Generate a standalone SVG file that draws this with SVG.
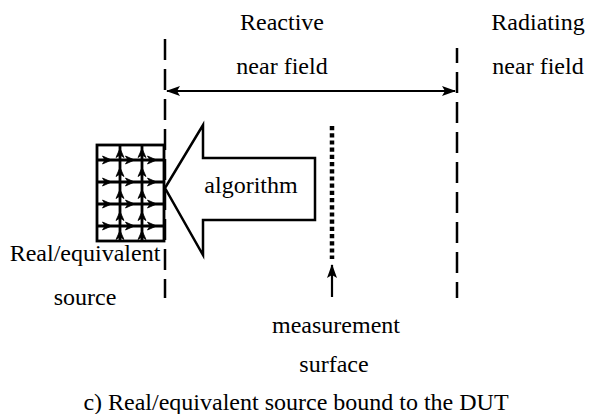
<svg xmlns="http://www.w3.org/2000/svg" width="591" height="414" viewBox="0 0 591 414">
  <style>
    text { font-family: "Liberation Serif", "Times New Roman", serif; font-size: 24px; fill: #000; text-anchor: middle; }
    .dash { stroke: #000; stroke-width: 2.5; stroke-dasharray: 21 9; fill: none; }
    .grid { stroke: #000; stroke-width: 2.8; fill: none; }
    .line { stroke: #000; stroke-width: 2.2; fill: none; }
  </style>
  <defs>
    <marker id="head" viewBox="0 0 14 10" refX="13" refY="5" markerWidth="14" markerHeight="10" markerUnits="userSpaceOnUse" orient="auto-start-reverse">
      <path d="M0,0 L14,5 L0,10 L3,5 Z" fill="#000"/>
    </marker>
    <path id="tip" d="M-5.5,-4 L3.5,0 L-5.5,4 L-3,0 Z" fill="#000" stroke="#000" stroke-width="0.8"/>
  </defs>

  <!-- region boundaries -->
  <g id="boundary-left">
    <line class="dash" x1="165" y1="39" x2="165" y2="298"/>
  </g>
  <g id="boundary-right">
    <line class="dash" x1="457" y1="48" x2="457" y2="298" stroke-dashoffset="6"/>
  </g>

  <!-- region labels -->
  <g id="label-reactive">
    <text x="282" y="30">Reactive</text>
    <text x="282" y="74">near field</text>
  </g>
  <g id="label-radiating">
    <text x="538" y="30">Radiating</text>
    <text x="538" y="74">near field</text>
  </g>

  <!-- source grid with current arrows -->
  <g id="source">
    <rect class="grid" x="97" y="145" width="67" height="96"/>
    <path class="grid" d="M120,145 V241 M142,145 V241 M97,160 H164 M97,182 H164 M97,204 H164 M97,226 H164"/>
    <g id="source-arrows-h">
      <use href="#tip" x="108" y="160"/><use href="#tip" x="131" y="160"/><use href="#tip" x="153" y="160"/>
      <use href="#tip" x="108" y="182"/><use href="#tip" x="131" y="182"/><use href="#tip" x="153" y="182"/>
      <use href="#tip" x="108" y="204"/><use href="#tip" x="131" y="204"/><use href="#tip" x="153" y="204"/>
      <use href="#tip" x="108" y="226"/><use href="#tip" x="131" y="226"/><use href="#tip" x="153" y="226"/>
    </g>
    <g id="source-arrows-v">
      <use href="#tip" transform="translate(120,152) rotate(-90)"/>
      <use href="#tip" transform="translate(120,171) rotate(-90)"/>
      <use href="#tip" transform="translate(120,193) rotate(-90)"/>
      <use href="#tip" transform="translate(120,215) rotate(-90)"/>
      <use href="#tip" transform="translate(120,234) rotate(-90)"/>
      <use href="#tip" transform="translate(142,152) rotate(-90)"/>
      <use href="#tip" transform="translate(142,171) rotate(-90)"/>
      <use href="#tip" transform="translate(142,193) rotate(-90)"/>
      <use href="#tip" transform="translate(142,215) rotate(-90)"/>
      <use href="#tip" transform="translate(142,234) rotate(-90)"/>
    </g>
    <text x="85" y="261">Real/equivalent</text>
    <text x="85" y="305">source</text>
  </g>

  <!-- algorithm block arrow -->
  <g id="algorithm">
    <polygon points="165,188 203,125 203,158 315,158 315,220 203,220 203,255" fill="#fff" stroke="#000" stroke-width="2.5" stroke-linejoin="miter"/>
    <text x="251" y="193">algorithm</text>
  </g>

  <!-- measurement surface -->
  <g id="measurement">
    <line x1="332" y1="126" x2="332" y2="259" stroke="#000" stroke-width="4.5" stroke-dasharray="4.2 3"/>
    <text x="336" y="333">measurement</text>
    <text x="334" y="372">surface</text>
  </g>

  <!-- connectors -->
  <g id="connectors">
    <line class="line" x1="167" y1="91" x2="455" y2="91" marker-start="url(#head)" marker-end="url(#head)"/>
    <line class="line" x1="332" y1="297" x2="332" y2="265" marker-end="url(#head)"/>
  </g>

  <g id="caption">
    <text x="296" y="410">c) Real/equivalent source bound to the DUT</text>
  </g>
</svg>
